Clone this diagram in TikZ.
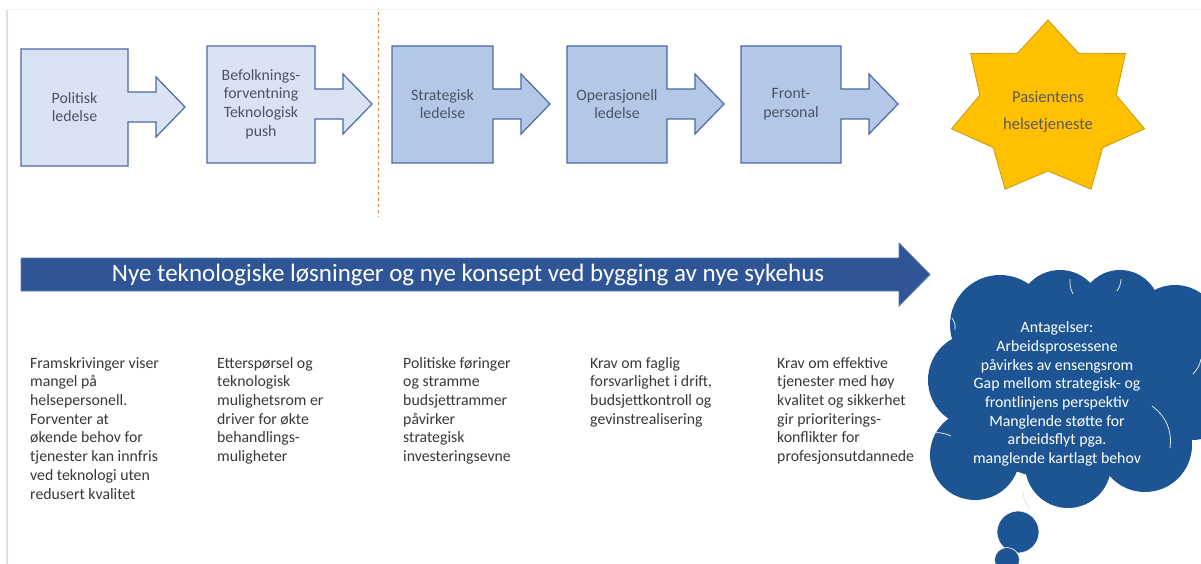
\documentclass[tikz,border=0pt]{standalone}
\usepackage{fontspec}
\setmainfont{Carlito}
\usetikzlibrary{shapes.symbols, positioning}
\definecolor{clight}{HTML}{DAE3F3}
\definecolor{cmid}{HTML}{B4C7E7}
\definecolor{cedge}{HTML}{4A6AA0}
\definecolor{ctext}{HTML}{4A5468}
\definecolor{cnavy}{HTML}{2F5597}
\definecolor{cgold}{HTML}{FFC000}
\definecolor{cgoldedge}{HTML}{C89A10}
\definecolor{corange}{HTML}{ED7D31}
\definecolor{ccloud}{HTML}{1D5594}
\definecolor{cframe}{HTML}{D8E0EF}
\tikzset{
  every picture/.style={x=1pt, y=-1pt, font=\fontsize{15.8}{18.7}\selectfont},
  stepshape/.style={draw=cedge, fill=#1, line width=1.2pt, line join=miter},
  stepshape/.default=clight,
  steplabel/.style={text=ctext, align=center, inner sep=0pt},
  starshape/.style={draw=cgoldedge, fill=cgold, line width=0.8pt},
  bigarrow/.style={draw=cnavy!80!white, fill=cnavy, line width=0.8pt},
  bigtext/.style={text=white, font=\fontsize{25}{30}\selectfont, inner sep=0pt},
  colnote/.style={text=black!78, align=left, anchor=north west, inner sep=0pt},
  puff/.style={fill=ccloud},
  bubble/.style={circle, fill=ccloud, draw=white, line width=0.6pt, inner sep=0pt},
  puffline/.style={draw=white!85!ccloud, line width=0.8pt},
  cloudtext/.style={text=white, align=center, inner sep=0pt},
}

\begin{document}
\begin{tikzpicture}
  \path[fill=white, use as bounding box] (0,0) rectangle (1201,564);
  % faint slide frame
  \draw[cframe, line width=1.5pt] (7,564) -- (7,10);
  \draw[cframe!40, line width=1pt] (7,10) -- (1201,10);

  % chain of callout boxes
  \foreach \n/\l/\t/\w/\f/\txt in {
      pol/21/49/107/clight/{Politisk\\ledelse},
      bef/207/46/108/clight/{Befolknings-\\forventning\\Teknologisk\\push},
      str/392/46/101/cmid/{Strategisk\\ledelse},
      ope/567/46/100/cmid/{Operasjonell\\ledelse},
      fro/741/46/100/cmid/{Front-\\personal}} {
    \draw[stepshape=\f] (\l,\t) -- ++(\w,0) -- ++(0,43) -- ++(28,0) -- ++(0,-15)
      -- ++(29,30) -- ++(-29,30) -- ++(0,-15) -- ++(-28,0) -- ++(0,44) -- ++(-\w,0) -- cycle;
    \node[steplabel] (\n) at (\l+\w/2,\t+58) {\txt};
  }

  % split between the two levels
  \coordinate (splittop) at (378,12);
  \coordinate (splitbot) at (378,217);
  \draw[corange, dashed, line width=1pt] (splittop) -- (splitbot);

  % the star
  \draw[starshape, shift={(1048,109)}] (-90:99 and 89)
    \foreach \k in {1,...,7} { -- ({-90+\k*360/7-180/7}:70 and 62) -- ({-90+\k*360/7}:99 and 89) } -- cycle;
  \node[steplabel, text=black!65, font=\fontsize{16.5}{19}\selectfont] (pas) at (1048,112) {Pasientens\\[8pt]helsetjeneste};

  % big arrow
  \draw[bigarrow] (21,258) -- (899,258) -- (899,243) -- (930,274.5) -- (899,306) -- (899,291) -- (21,291) -- cycle;
  \node[bigtext] (tek) at (468,274.5) {Nye teknologiske løsninger og nye konsept ved bygging av nye sykehus};

  % notes under each step
  \node[colnote] (n1) at (30,357) {Framskrivinger viser\\mangel på\\helsepersonell.\\Forventer at\\økende behov for\\tjenester kan innfris\\ved teknologi uten\\redusert kvalitet};
  \node[colnote] (n2) at (217,357) {Etterspørsel og\\teknologisk\\mulighetsrom er\\driver for økte\\behandlings-\\muligheter};
  \node[colnote] (n3) at (403,357) {Politiske føringer\\og stramme\\budsjettrammer\\påvirker\\strategisk\\investeringsevne};
  \node[colnote] (n4) at (590,357) {Krav om faglig\\forsvarlighet i drift,\\budsjettkontroll og\\gevinstrealisering};
  \node[colnote] (n5) at (777,357) {Krav om effektive\\tjenester med høy\\kvalitet og sikkerhet\\gir prioriterings-\\konflikter for\\profesjonsutdannede};

  % thought cloud, built from puffs
  \fill[puff] (1065,395) ellipse[x radius=110, y radius=85];
  \foreach \cx/\cy/\r in {1000/325/50, 1060/312/42, 1120/310/40, 1175/330/45, 975/380/47,
                          975/455/45, 1068/465/43, 1145/445/47, 1192/390/50}
    \fill[puff] (\cx,\cy) circle[radius=\r];
  \draw[puffline] (952,318) to[bend left=20] (955,330);
  \draw[puffline] (930,433) to[bend left=15] (951,436);
  \draw[puffline] (1023,492) to[bend right=20] (1030,508);
  \draw[puffline] (1070,279) to[bend right=15] (1073,294);
  \draw[puffline] (1121,279) to[bend left=15] (1117,291);
  \draw[puffline] (1152,406) to[bend left=30] (1170,448);
  \draw[puffline] (1193,374) to[bend right=15] (1201,359);
  \node[bubble, minimum size=42pt] (b1) at (1018,532) {};
  \node[bubble, minimum size=25pt] (b2) at (1007,560) {};
  \node[cloudtext] (ant) at (1057,394) {Antagelser:\\Arbeidsprosessene\\påvirkes av ensengsrom\\Gap mellom strategisk- og\\frontlinjens perspektiv\\Manglende støtte for\\arbeidsflyt pga.\\manglende kartlagt behov};
\end{tikzpicture}
\end{document}
